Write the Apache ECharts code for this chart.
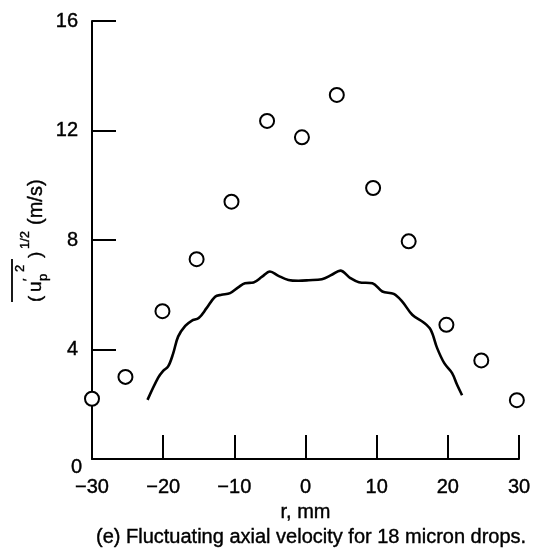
<!DOCTYPE html>
<html>
<head>
<meta charset="utf-8">
<script src="https://cdn.jsdelivr.net/npm/echarts@6/dist/echarts.min.js"></script>
<style>
html,body{margin:0;padding:0;background:#fff;}
#chart{width:537px;height:558px;}
</style>
</head>
<body>
<div id="chart"></div>
<script>
// Measured drop data (circles)
const circleR = [-30.0, -25.3, -20.1, -15.3, -10.4, -5.4, -0.5, 4.4, 9.5, 14.5, 19.8, 24.7, 29.7];
const circleU = [2.2, 3.0, 5.4, 7.3, 9.4, 12.35, 11.75, 13.3, 9.9, 7.95, 4.9, 3.6, 2.15];

// Solid curve
const curveR = [-22.2, -20.7, -20.0, -19.3, -18.6, -17.9, -16.9, -16.0, -15.0, -13.9, -12.7, -11.8, -10.6, -9.4, -8.5, -7.3, -6.1, -5.0, -3.8, -2.4, -1.0, 0.45, 2.3, 3.7, 4.9, 6.3, 7.5, 9.4, 10.8, 12.4, 13.6, 15.0, 16.6, 17.6, 18.5, 19.5, 20.6, 21.3, 22.0];
const curveU = [2.16, 2.97, 3.22, 3.38, 3.85, 4.47, 4.86, 5.05, 5.15, 5.51, 5.93, 6.0, 6.06, 6.28, 6.42, 6.45, 6.66, 6.85, 6.69, 6.54, 6.51, 6.53, 6.57, 6.73, 6.88, 6.61, 6.46, 6.42, 6.12, 6.03, 5.75, 5.27, 4.99, 4.72, 4.05, 3.5, 3.14, 2.71, 2.33];

const xTicks = [-30, -20, -10, 0, 10, 20, 30];
const yTicks = [0, 4, 8, 12, 16];
const xName = 'r, mm';
const caption = '(e) Fluctuating axial velocity for 18 micron drops.';

const FONT = '"Liberation Sans", Arial, Helvetica, sans-serif';
const THICK = {textBorderColor: '#000', textBorderWidth: 0.4};

const chart = echarts.init(document.getElementById('chart'), null, {renderer: 'canvas'});

const circles = circleR.map((r, i) => [r, circleU[i]]);
const curve = curveR.map((r, i) => [r, curveU[i]]);

function t(text, lx, ly, size) {
  return {
    type: 'text', x: lx, y: ly,
    style: Object.assign({text: text, font: size + 'px ' + FONT, fill: '#000', textAlign: 'left', textVerticalAlign: 'middle',
      stroke: '#000', lineWidth: 0.4})
  };
}

const option = {
  backgroundColor: '#fff',
  animation: false,
  title: {
    text: caption,
    left: 96, top: 527, padding: 0,
    textStyle: Object.assign({fontFamily: FONT, fontSize: 20, fontWeight: 'normal', color: '#000'}, THICK)
  },
  grid: {left: 92, right: 18, top: 21, bottom: 99, containLabel: false, outerBoundsMode: 'none'},
  xAxis: {
    type: 'value', min: xTicks[0], max: xTicks[xTicks.length - 1], interval: 10,
    name: xName, nameLocation: 'middle', nameGap: 42,
    nameTextStyle: Object.assign({fontFamily: FONT, fontSize: 20, color: '#000'}, THICK),
    axisLine: {show: true, onZero: false, lineStyle: {color: '#000', width: 2}},
    axisTick: {show: true, inside: true, length: 24, lineStyle: {color: '#000', width: 2}},
    axisLabel: Object.assign({fontFamily: FONT, fontSize: 20, color: '#000', margin: 18,
      formatter: v => (v < 0 ? '\u2212' + Math.abs(v) : String(v))}, THICK),
    splitLine: {show: false}
  },
  yAxis: {
    type: 'value', min: yTicks[0], max: yTicks[yTicks.length - 1], interval: 4,
    axisLine: {show: true, onZero: false, lineStyle: {color: '#000', width: 2}},
    axisTick: {show: true, inside: true, length: 24, lineStyle: {color: '#000', width: 2}},
    axisLabel: Object.assign({fontFamily: FONT, fontSize: 20, color: '#000', margin: 14,
      formatter: v => (v === 0 ? '{z|0}' : String(v)),
      rich: {z: Object.assign({fontFamily: FONT, fontSize: 20, color: '#000', padding: [16, -4, 0, 0]}, THICK)}}, THICK),
    splitLine: {show: false}
  },
  graphic: [{
    type: 'group', x: 0, y: 305, rotation: Math.PI / 2,
    children: [
      t('(', 3, 36, 19),
      t('u', 13, 36, 19),
      t('\u2032', 24, 28, 13),
      t('p', 24, 43, 13),
      t('2', 33, 20, 13),
      {type: 'line', shape: {x1: 3, y1: 12, x2: 46, y2: 12}, style: {stroke: '#000', lineWidth: 1.8}},
      t(')', 47, 36, 19),
      t('1/2', 56, 25, 13),
      t('(m/s)', 80, 36, 20)
    ]
  }],
  series: [
    {
      type: 'line', data: curve, showSymbol: false, symbol: 'none', smooth: 0.35,
      lineStyle: {color: '#000', width: 2.6}, clip: false, z: 3
    },
    {
      type: 'scatter', data: circles, symbol: 'circle', symbolSize: 14, clip: false,
      itemStyle: {color: '#fff', borderColor: '#000', borderWidth: 2, opacity: 1}, z: 4
    }
  ]
};
chart.setOption(option);
</script>
</body>
</html>
